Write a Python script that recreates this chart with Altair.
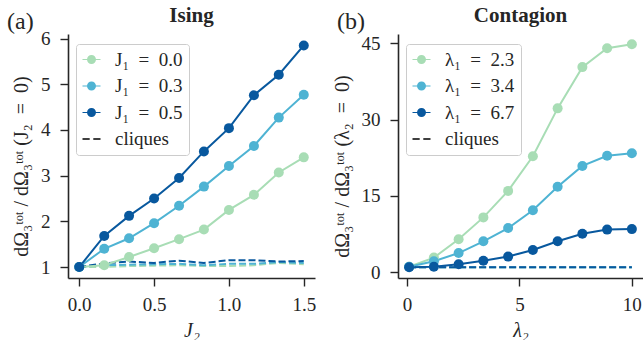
import altair as alt
import pandas as pd

FONT = "Liberation Serif"
GNBU = ["#a8ddb5", "#4eb3d3", "#08589e"]
INK = "#262626"
SP = "\u2002"  # en space, mimics LaTeX spacing around '='

# ---------------- data ----------------
# (a) Ising
j2 = [0.0, 0.167, 0.333, 0.5, 0.667, 0.833, 1.0, 1.167, 1.333, 1.5]
ising_labels = [f"J₁{SP}={SP}0.0", f"J₁{SP}={SP}0.3", f"J₁{SP}={SP}0.5"]
ising_j1_00 = [1.0, 1.04, 1.22, 1.41, 1.61, 1.82, 2.25, 2.58, 3.07, 3.40]
ising_j1_03 = [1.0, 1.40, 1.63, 1.96, 2.34, 2.76, 3.21, 3.65, 4.27, 4.77]
ising_j1_05 = [1.0, 1.68, 2.12, 2.50, 2.95, 3.53, 4.04, 4.76, 5.21, 5.85]
ising_cl_00 = [1.0, 1.00, 1.02, 1.03, 1.04, 1.02, 1.02, 1.04, 1.09, 1.06]
ising_cl_03 = [1.0, 1.04, 1.05, 1.06, 1.07, 1.04, 1.07, 1.07, 1.11, 1.09]
ising_cl_05 = [1.0, 1.08, 1.12, 1.09, 1.14, 1.09, 1.15, 1.15, 1.12, 1.13]

# (b) Contagion
lam2 = [0.1, 1.2, 2.3, 3.4, 4.5, 5.6, 6.7, 7.8, 8.9, 10.0]
cont_labels = [f"λ₁{SP}={SP}2.3", f"λ₁{SP}={SP}3.4", f"λ₁{SP}={SP}6.7"]
cont_l1_23 = [1.1, 2.9, 6.5, 10.8, 16.0, 22.8, 32.2, 40.3, 44.0, 44.8]
cont_l1_34 = [1.1, 2.2, 3.8, 6.1, 8.7, 12.2, 16.8, 20.9, 22.9, 23.4]
cont_l1_67 = [1.0, 1.1, 1.6, 2.3, 3.1, 4.4, 6.1, 7.6, 8.4, 8.5]
cont_cl_23 = [1.0, 1.0, 1.0, 1.0, 1.0, 1.0, 1.0, 1.0, 1.0, 1.0]
cont_cl_34 = [1.0, 1.0, 1.0, 1.0, 1.0, 1.0, 1.0, 1.0, 1.0, 1.0]
cont_cl_67 = [1.0, 1.0, 1.0, 1.0, 1.0, 1.0, 1.0, 1.0, 1.0, 1.0]

# legend symbol paths (filled shapes): line with dot, and dashed line
LINE_DOT = ("M-1,-0.06L1,-0.06L1,0.06L-1,0.06Z "
            "M-0.5,0A0.5,0.5 0 1,1 0.5,0A0.5,0.5 0 1,1 -0.5,0Z")
DASH = "M-1,-0.07L-0.2,-0.07L-0.2,0.07L-1,0.07Z M0.2,-0.07L1,-0.07L1,0.07L0.2,0.07Z"

H = 244


def panel(x, series, cliques, labels, xdom, ydom, xticks, yticks, xfmt,
          xtitle, ytitle, title, tag, ytitle_pad, width):
    rows, crows = [], []
    for lab, vals in zip(labels, series):
        for xi, yi in zip(x, vals):
            rows.append({"x": xi, "y": yi, "s": lab})
    for lab, vals in zip(labels, cliques):
        for xi, yi in zip(x, vals):
            crows.append({"x": xi, "y": yi, "s": lab})
    df = pd.DataFrame(rows)
    cdf = pd.DataFrame(crows)
    domain = labels + ["cliques"]

    xenc = alt.X("x:Q", scale=alt.Scale(domain=xdom, nice=False, zero=False),
                 axis=alt.Axis(values=xticks, format=xfmt, title=xtitle,
                               titleFontStyle="italic", titlePadding=6))
    yenc = alt.Y("y:Q", scale=alt.Scale(domain=ydom, nice=False, zero=False),
                 axis=alt.Axis(values=yticks, title=ytitle,
                               titlePadding=ytitle_pad, titleY=H / 2 + 10))
    cscale = alt.Scale(domain=domain, range=GNBU + ["#000000"])
    leg = alt.Legend(title=None, orient="none", legendX=8, legendY=10,
                     fillColor="rgba(255,255,255,0.8)", strokeColor="#cccccc",
                     cornerRadius=3, padding=6, rowPadding=6.5, labelOffset=14,
                     labelFont=FONT, labelFontSize=19, labelColor=INK,
                     symbolStrokeWidth=0, symbolSize=324, labelLimit=250)
    color = alt.Color("s:N", scale=cscale, legend=leg)

    dashed = alt.Chart(cdf).mark_line(strokeDash=[7, 3], strokeWidth=2).encode(
        x=xenc, y=yenc, color=color)
    solid = alt.Chart(df).mark_line(strokeWidth=2).encode(
        x=xenc, y=yenc, color=color)
    pts = alt.Chart(df).mark_point(filled=True, size=100, opacity=1).encode(
        x=xenc, y=yenc, color=color)

    legend_layer = alt.Chart(df).transform_filter("datum.x < -1000").mark_point(
        filled=True, size=324, opacity=1, strokeWidth=0).encode(
        x=xenc, y=yenc, color=color,
        shape=alt.Shape("s:N", scale=alt.Scale(domain=domain,
                                               range=[LINE_DOT] * 3 + [DASH]),
                        legend=leg))

    tag_layer = alt.Chart(pd.DataFrame({"t": [tag]})).mark_text(
        font=FONT, fontSize=24, align="left", baseline="alphabetic",
        color=INK).encode(x=alt.value(-61), y=alt.value(-5), text="t:N")
    title_layer = alt.Chart(pd.DataFrame({"t": [title]})).mark_text(
        font=FONT, fontSize=21, fontWeight="bold", align="center",
        baseline="alphabetic", color=INK).encode(
        x=alt.value(width / 2), y=alt.value(-12), text="t:N")

    return alt.layer(dashed, solid, pts, legend_layer, tag_layer,
                     title_layer).properties(width=width, height=H)


pa = panel(j2, [ising_j1_00, ising_j1_03, ising_j1_05],
           [ising_cl_00, ising_cl_03, ising_cl_05], ising_labels,
           [-0.075, 1.575], [0.76, 6.1], [0, 0.5, 1.0, 1.5], [1, 2, 3, 4, 5, 6],
           ".1f", "J₂", f"dΩ₃ᵗᵒᵗ / dΩ₃ᵗᵒᵗ (J₂{SP}={SP}0)", "Ising", "(a)", 9, 247)
pb = panel(lam2, [cont_l1_23, cont_l1_34, cont_l1_67],
           [cont_cl_23, cont_cl_34, cont_cl_67], cont_labels,
           [-0.395, 10.495], [-1.1, 46.8], [0, 5, 10], [0, 15, 30, 45],
           "d", "λ₂", f"dΩ₃ᵗᵒᵗ / dΩ₃ᵗᵒᵗ (λ₂{SP}={SP}0)", "Contagion", "(b)", 9, 245)

chart = alt.hconcat(pa, pb, spacing=83, bounds="flush").resolve_scale(
    color="independent", shape="independent"
).resolve_legend(color="independent", shape="independent").configure(
    padding={"left": 7, "top": 5, "right": 0, "bottom": 0}
).configure_view(stroke=None).configure_axis(
    grid=False, domainColor=INK, domainWidth=1.6, tickColor=INK, tickWidth=1.4,
    tickSize=8, labelPadding=10, labelFont=FONT, labelFontSize=19, labelColor=INK,
    titleFont=FONT, titleFontSize=20, titleFontWeight="normal", titleColor=INK
).configure_axisX(labelFlush=False, labelPadding=9)

chart.save("out.html", embed_options={"renderer": "svg", "actions": False})
